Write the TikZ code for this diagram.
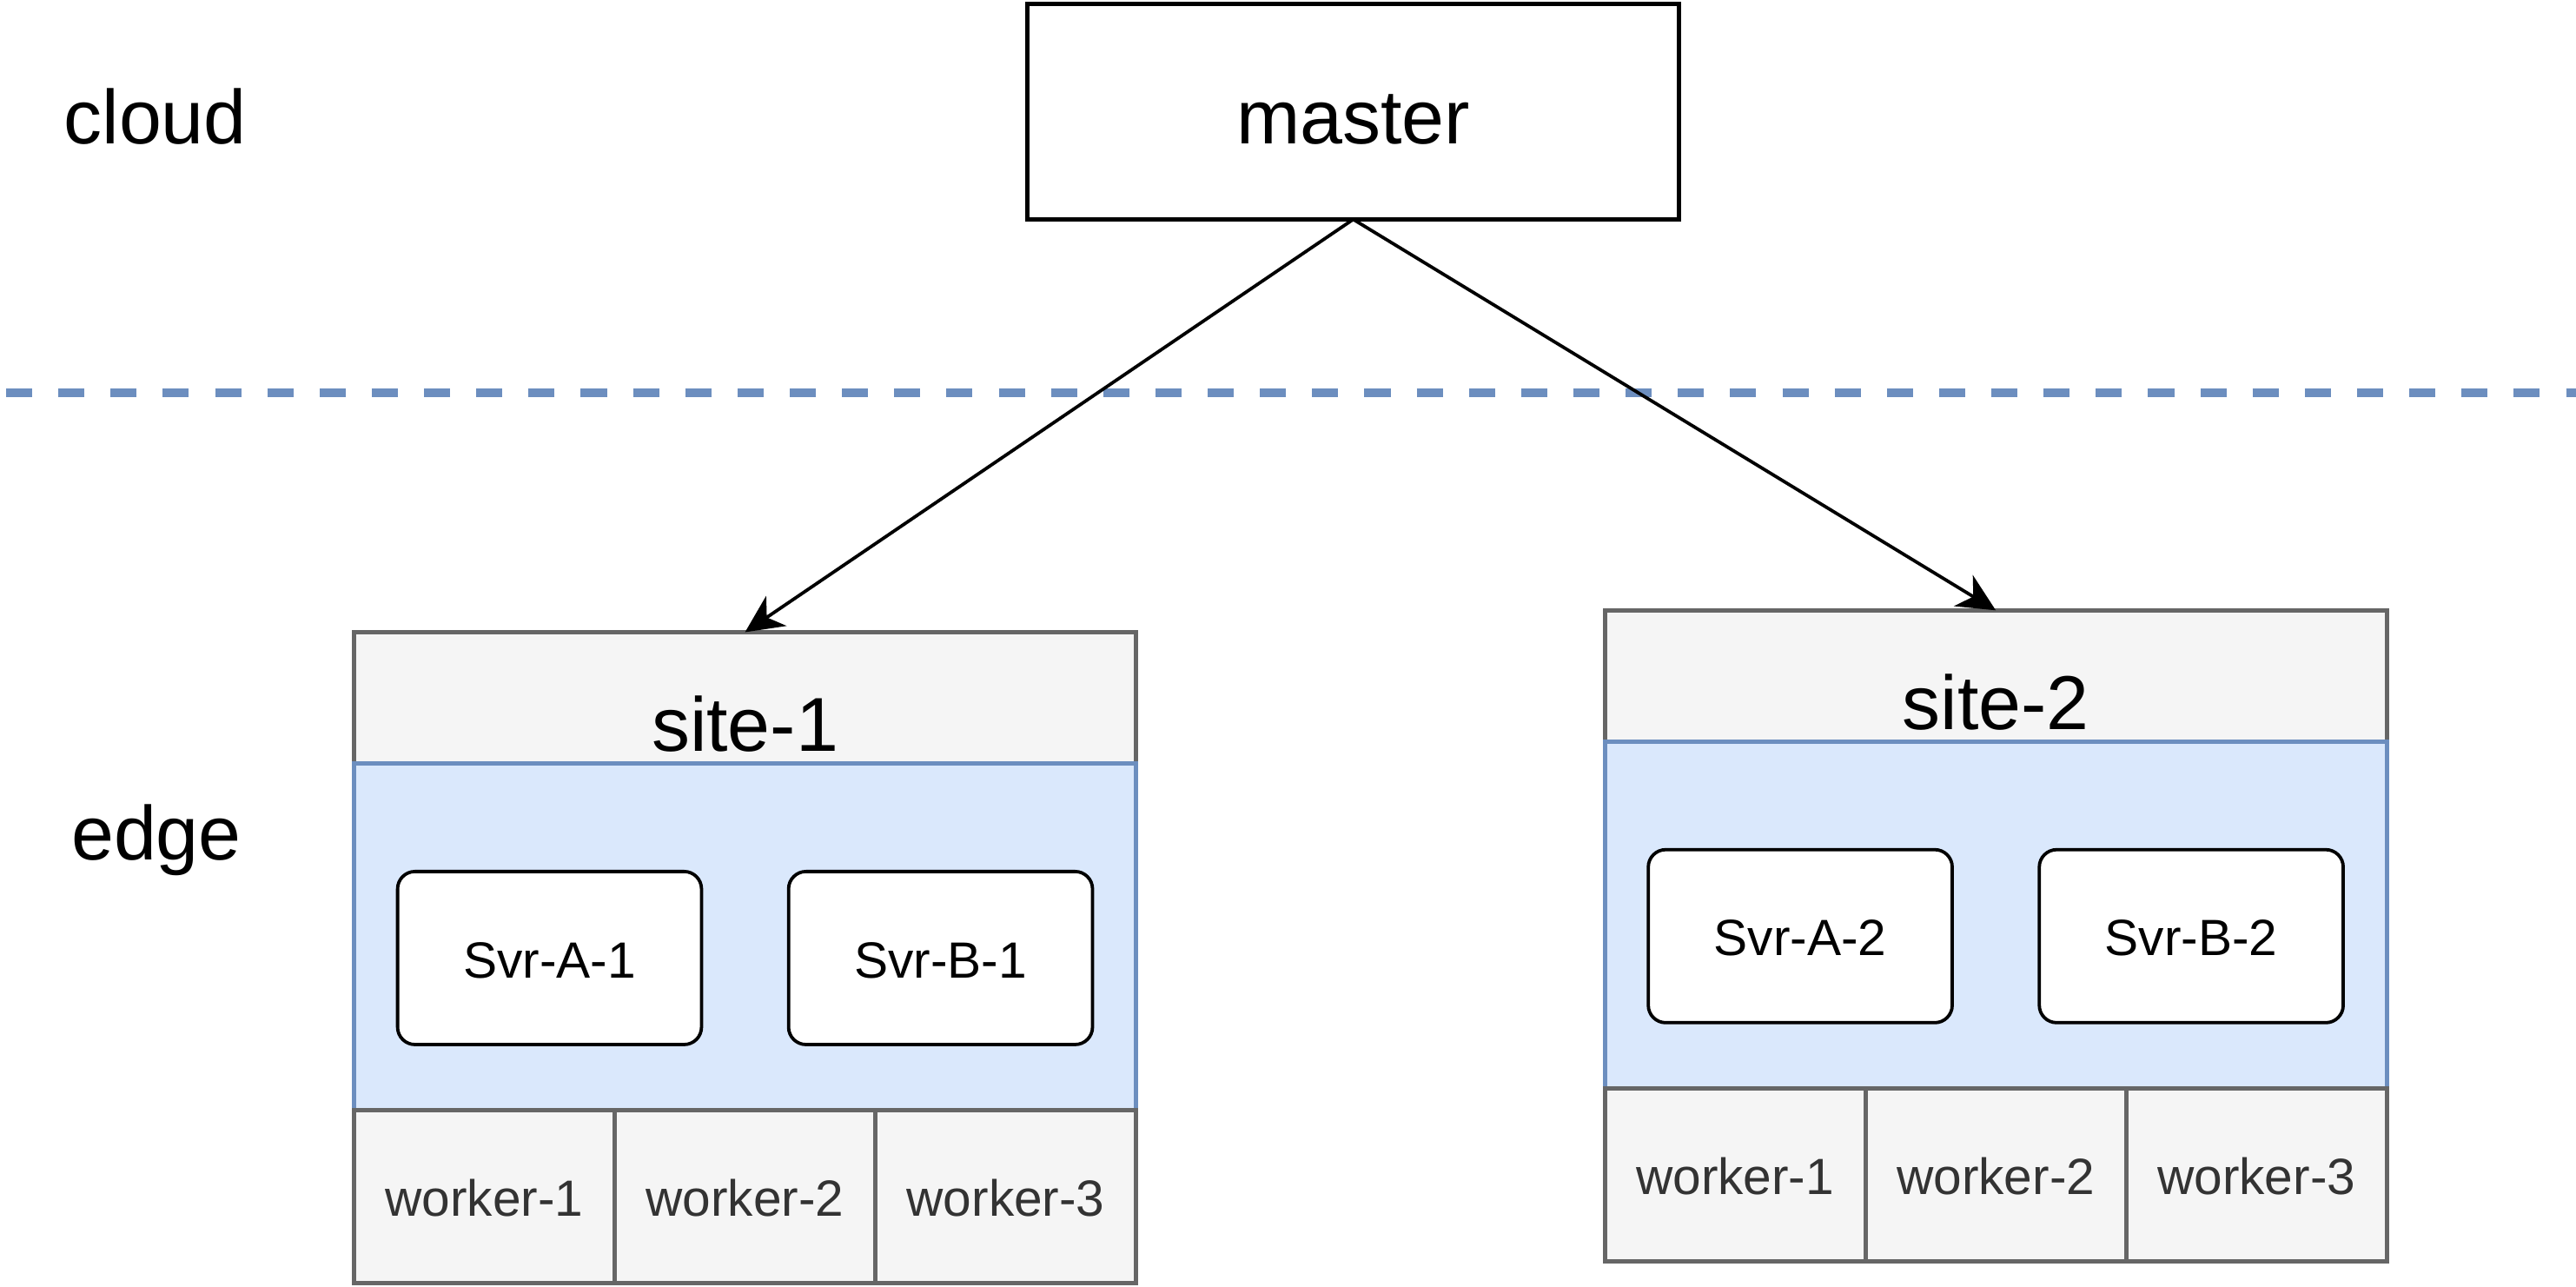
\documentclass[tikz,border=0pt]{standalone}
\usepackage{fontspec}
\setmainfont{Liberation Sans}
\usetikzlibrary{arrows.meta}
\definecolor{lanefill}{HTML}{F5F5F5}
\definecolor{lanedraw}{HTML}{666666}
\definecolor{podfill}{HTML}{DAE8FC}
\definecolor{poddraw}{HTML}{6C8EBF}
\definecolor{wtext}{HTML}{333333}
\begin{document}
\begin{tikzpicture}[x=1pt,y=-1pt,>={Stealth[length=23pt,width=22pt,inset=7pt]},
  big/.style={font=\fontsize{46.5}{56}\selectfont},
  small/.style={font=\fontsize{31}{37}\selectfont},
  mbox/.style={big,draw,line width=2.6pt,minimum width=396.7pt,minimum height=131pt,
    inner sep=0pt,outer sep=0pt,text height=38.6pt,text depth=0pt},
  hdr/.style={draw=lanedraw,fill=lanefill,line width=2.6pt,minimum width=476pt,
    minimum height=79.8pt,inner sep=0pt,outer sep=0pt},
  pod/.style={draw=poddraw,fill=podfill,line width=2.6pt,minimum width=476pt,
    minimum height=211pt,inner sep=0pt,outer sep=0pt},
  cell/.style={small,text=wtext,draw=lanedraw,fill=lanefill,line width=2.6pt,
    minimum width=158.67pt,minimum height=105.5pt,inner sep=0pt,outer sep=0pt,
    text height=24pt,text depth=0pt},
  svr/.style={small,draw,fill=white,line width=2pt,rounded corners=10.6pt,
    minimum width=185pt,minimum height=105.3pt,inner sep=0pt,outer sep=0pt,
    text height=24pt,text depth=0pt}]
\useasboundingbox (0,0) rectangle (1568,782.7);
\node[big,anchor=base,inner sep=0pt] (cloud) at (94.5,87.3) {cloud};
\node[big,anchor=base,inner sep=0pt] (edge) at (95.2,523.5) {edge};
\node[mbox] (master) at (823.7,68) {master};
\draw[draw=poddraw,line width=5.3pt,dash pattern=on 15.9pt off 15.9pt] (3.7,239)--(1568,239);
\foreach \s/\dx/\dy in {1/0/0,2/761.3/-13.3}{
\begin{scope}[shift={(\dx,\dy)}]
\node[hdr] (hdr\s) at (453.5,424.6) {};
\node[big,anchor=base,inner sep=0pt] (site\s) at (453.5,457.4) {site-\s};
\node[pod] (pod\s) at (453.5,570) {};
\node[svr] (svrA\s) at (334.5,583) {Svr-A-\s};
\node[svr] (svrB\s) at (572.5,583) {Svr-B-\s};
\foreach \w in {1,2,3}
  \node[cell] (wk\s-\w) at ({215.5+158.67*(\w-0.5)},728.25) {worker-\w};
\end{scope}
}
\draw[->,line width=2pt] (master.south)--(hdr1.north);
\draw[->,line width=2pt] (master.south)--(hdr2.north);
\end{tikzpicture}
\end{document}
